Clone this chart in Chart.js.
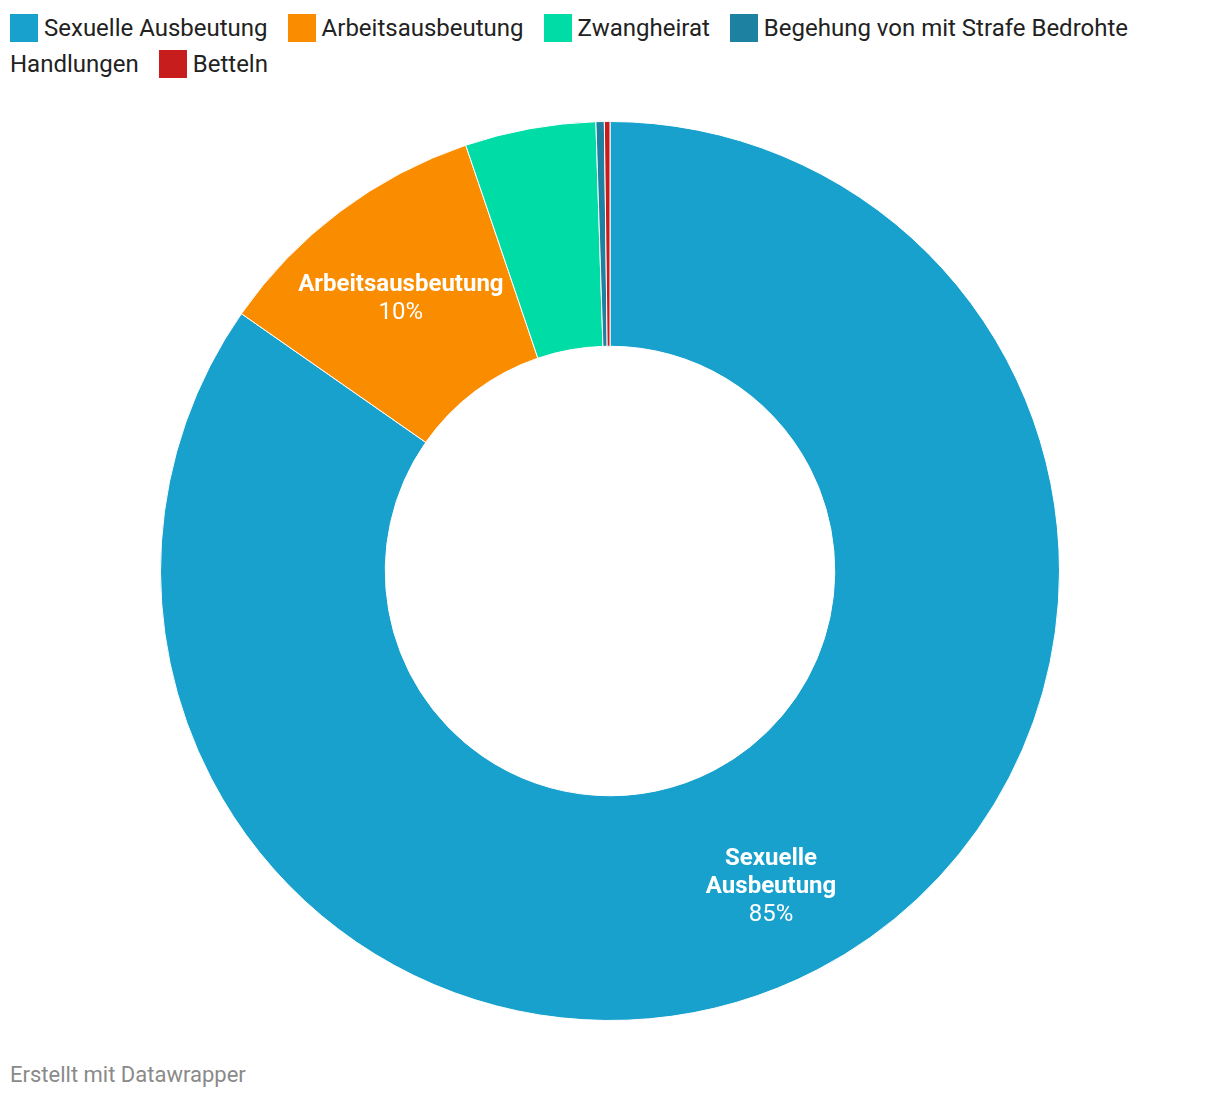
<!DOCTYPE html>
<html lang="de">
<head>
<meta charset="UTF-8">
<title>Ausbeutungsformen</title>
<script src="https://cdn.jsdelivr.net/npm/chart.js@4.4.1/dist/chart.umd.min.js"></script>
<style>
  body { margin: 0; background: #fff; font-family: Roboto, sans-serif; }
  #legend { position: absolute; left: 10px; top: 10px; width: 1200px; font-size: 24px; line-height: 36px; color: #222; }
  #legend .item { margin-right: 20px; }
  #legend .box { display: inline-block; width: 28px; height: 28px; margin-right: 6px; vertical-align: top; position: relative; top: 4px; }
  #wrap { position: absolute; left: 160px; top: 121px; width: 900px; height: 900px; }
  #footer { position: absolute; left: 10px; top: 1062px; font-size: 22px; color: #8a8a8a; }
</style>
</head>
<body>
<div id="legend"></div>
<div id="wrap"><canvas id="chart"></canvas></div>
<div id="footer">Erstellt mit Datawrapper</div>
<script>
const categories = ['Sexuelle Ausbeutung', 'Arbeitsausbeutung', 'Zwangheirat', 'Begehung von mit Strafe Bedrohte Handlungen', 'Betteln'];
const shares = [84.7, 10.1, 4.7, 0.3, 0.2];
const colors = ['#18a1cd', '#fa8c00', '#00dca6', '#1d81a2', '#c71e1d'];
// text written inside the big slices (null = no label)
const sliceLabelLines = [['Sexuelle', 'Ausbeutung'], ['Arbeitsausbeutung'], null, null, null];

// html legend so the long label can wrap like in the original
const legend = document.getElementById('legend');
categories.forEach(function (c, i) {
    const item = document.createElement('span');
    item.className = 'item';
    const box = document.createElement('span');
    box.className = 'box';
    box.style.background = colors[i];
    item.appendChild(box);
    item.appendChild(document.createTextNode(c));
    legend.appendChild(item);
});

const sliceLabels = {
    id: 'sliceLabels',
    afterDatasetsDraw(chart) {
        const ctx = chart.ctx;
        const meta = chart.getDatasetMeta(0);
        meta.data.forEach(function (arc, i) {
            const lines = sliceLabelLines[i];
            if (!lines) return;
            const p = arc.getProps(['x', 'y', 'startAngle', 'endAngle', 'innerRadius', 'outerRadius'], true);
            const mid = (p.startAngle + p.endAngle) / 2;
            const r = p.innerRadius + (p.outerRadius - p.innerRadius) * 0.55;
            const cx = p.x + Math.cos(mid) * r;
            const cy = p.y + Math.sin(mid) * r + 7;
            const lh = 28;
            let y = cy - lines.length * lh / 2;
            ctx.save();
            ctx.fillStyle = '#fff';
            ctx.textAlign = 'center';
            ctx.textBaseline = 'middle';
            ctx.font = 'bold 24px Roboto';
            lines.forEach(function (l) { ctx.fillText(l, cx, y); y += lh; });
            ctx.font = '24px Roboto';
            ctx.fillText(Math.round(shares[i]) + '%', cx, y);
            ctx.restore();
        });
    }
};

new Chart(document.getElementById('chart'), {
    type: 'doughnut',
    data: {
        labels: categories,
        datasets: [{
            data: shares,
            backgroundColor: colors,
            borderColor: '#fff',
            borderWidth: 1,
            hoverOffset: 0
        }]
    },
    options: {
        responsive: true,
        maintainAspectRatio: false,
        animation: false,
        cutout: '50%',
        layout: { padding: 0 },
        plugins: {
            legend: { display: false },
            tooltip: { enabled: false }
        }
    },
    plugins: [sliceLabels]
});
</script>
</body>
</html>
